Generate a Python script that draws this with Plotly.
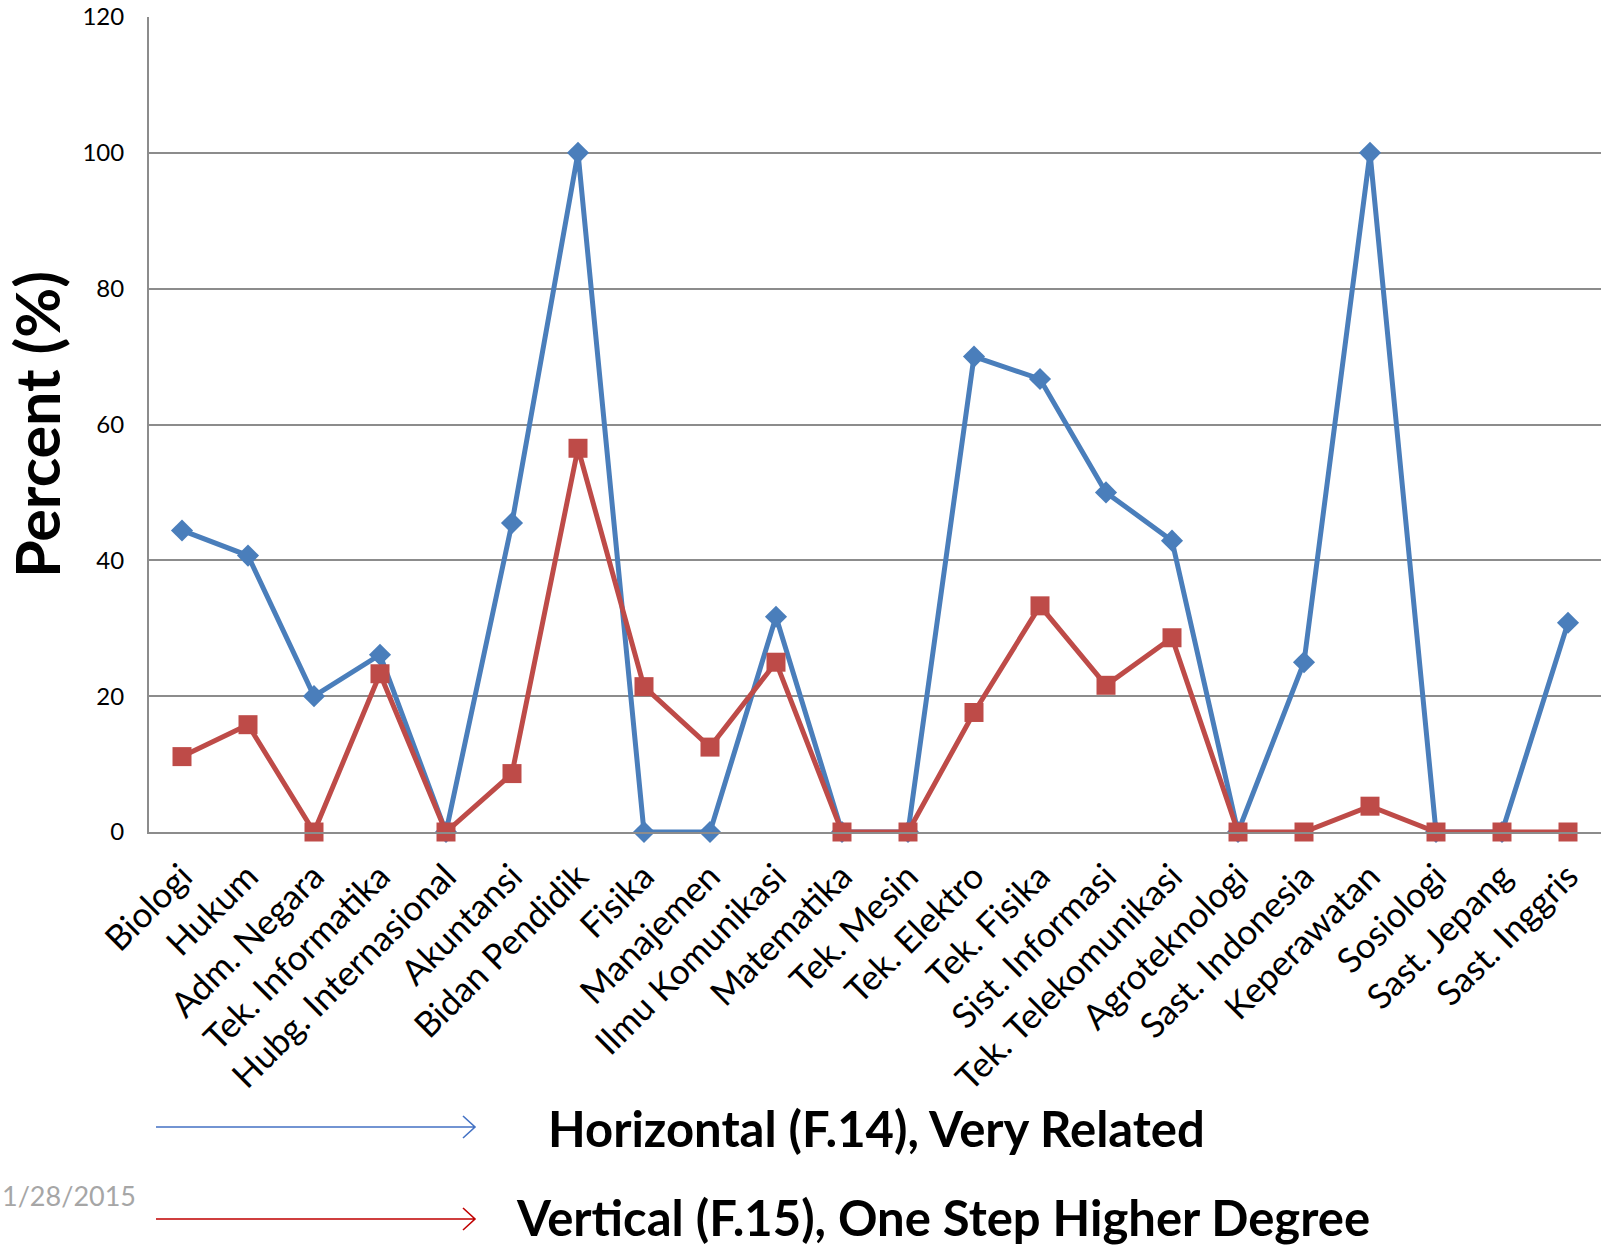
import plotly.graph_objects as go

categories = ["Biologi", "Hukum", "Adm. Negara", "Tek. Informatika", "Hubg. Internasional",
              "Akuntansi", "Bidan Pendidik", "Fisika", "Manajemen", "Ilmu Komunikasi",
              "Matematika", "Tek. Mesin", "Tek. Elektro", "Tek. Fisika", "Sist. Informasi",
              "Tek. Telekomunikasi", "Agroteknologi", "Sast. Indonesia", "Keperawatan",
              "Sosiologi", "Sast. Jepang", "Sast. Inggris"]

horizontal = [44.4, 40.7, 20.0, 26.1, 0, 45.5, 100, 0, 0, 31.7, 0, 0,
              70.0, 66.7, 50.0, 42.9, 0, 25.0, 100, 0, 0, 30.8]
vertical = [11.1, 15.8, 0, 23.3, 0, 8.6, 56.5, 21.4, 12.5, 25.0, 0, 0,
            17.6, 33.3, 21.6, 28.6, 0, 0, 3.8, 0, 0, 0]

y_ticks = [0, 20, 40, 60, 80, 100, 120]

series_names = ["Horizontal (F.14), Very Related", "Vertical (F.15), One Step Higher Degree"]
date_text = "1/28/2015"

W, H = 1602, 1245
L, R, T, B = 149, 1, 17, 413
pw, ph = W - L - R, H - T - B

def px(X):
    return (X - L) / pw

def py(Y):
    return (H - B - Y) / ph

BLUE = "#4A7EBB"
RED = "#BE4B48"
FONT = "Lato"
GRID = "#8C8C8C"

fig = go.Figure()
fig.add_trace(go.Scatter(x=categories, y=horizontal, mode="lines+markers", name=series_names[0],
                         line=dict(color=BLUE, width=5), cliponaxis=False,
                         marker=dict(symbol="diamond", size=17, color=BLUE)))
fig.add_trace(go.Scatter(x=categories, y=vertical, mode="lines+markers", name=series_names[1],
                         line=dict(color=RED, width=5), cliponaxis=False,
                         marker=dict(symbol="square", size=19, color=RED)))

# legend-like arrows
def arrow(Y, color):
    x0, x1 = px(156), px(475)
    hx = px(463)
    y = py(Y)
    dy = 11 / ph
    return dict(type="path", xref="paper", yref="paper",
                path=f"M {x0},{y} L {x1},{y} M {hx},{y + dy} L {x1},{y} L {hx},{y - dy}",
                line=dict(color=color, width=1.6))

shapes = [arrow(1127, "#4472C4"), arrow(1219, "#C00000")]

annotations = [
    dict(x=px(546), y=py(1128), xref="paper", yref="paper", text=series_names[0],
         showarrow=False, xanchor="left", yanchor="middle",
         font=dict(family=FONT, size=49, color="black", weight="bold")),
    dict(x=px(514), y=py(1217), xref="paper", yref="paper", text=series_names[1],
         showarrow=False, xanchor="left", yanchor="middle",
         font=dict(family=FONT, size=49, color="black", weight="bold")),
    dict(x=px(0), y=py(1195), xref="paper", yref="paper", text=date_text,
         showarrow=False, xanchor="left", yanchor="middle",
         font=dict(family=FONT, size=27, color="#A6A6A6")),
]

fig.update_layout(
    width=W, height=H,
    margin=dict(l=L, r=R, t=T, b=B),
    plot_bgcolor="white", paper_bgcolor="white",
    showlegend=False,
    shapes=shapes,
    annotations=annotations,
    font=dict(family=FONT, color="black"),
)
fig.update_xaxes(
    type="category", range=[-0.5, len(categories) - 0.5],
    tickangle=-45, tickfont=dict(family=FONT, size=35, color="black"),
    showgrid=False, showline=True, linecolor=GRID, linewidth=2,
    ticks="", ticklabelstandoff=8, automargin=False,
)
fig.update_yaxes(
    range=[0, 120], tickvals=y_ticks,
    tickfont=dict(family=FONT, size=24, color="black"),
    showgrid=True, gridcolor=GRID, gridwidth=2,
    showline=True, linecolor=GRID, linewidth=2,
    zeroline=False, ticks="", ticklabelstandoff=18, automargin=False,
    title=dict(text="Percent (%)", font=dict(family=FONT, size=61, color="black", weight="bold"),
               standoff=26),
)

fig.write_html("out.html")
